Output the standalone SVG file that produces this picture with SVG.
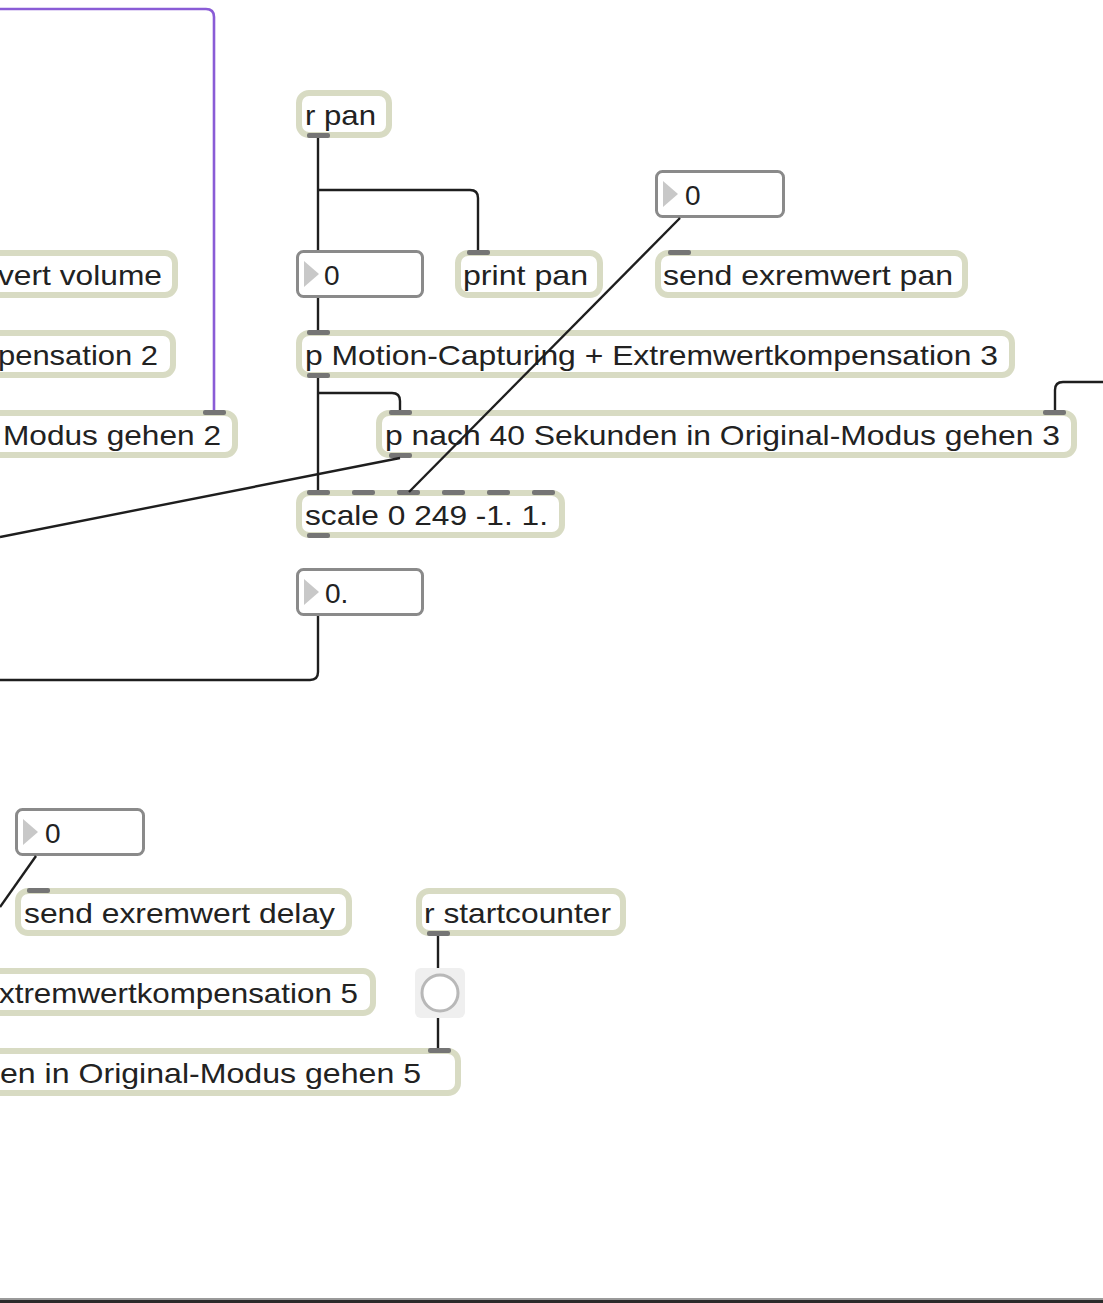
<svg xmlns="http://www.w3.org/2000/svg" width="1103" height="1303" viewBox="0 0 1103 1303">
  <style>
    .obj { fill: #ffffff; stroke: #d8dbc3; stroke-width: 6; }
    .num { fill: #ffffff; stroke: #8a8a8a; stroke-width: 3; }
    .tri { fill: #c8c8c8; }
    .port { fill: #757575; }
    .lbl { font-family: "Liberation Sans", Arial, sans-serif; font-size: 28px; fill: #222222; }
    .cord { fill: none; stroke: #1e1e1e; stroke-width: 2.4; }
    .cord-sig { fill: none; stroke: #8a5cd6; stroke-width: 2.6; }
  </style>

  <rect x="0" y="0" width="1103" height="1303" fill="#ffffff"/>

  <g id="r-pan">
    <rect class="obj" x="299" y="93" width="90" height="42" rx="10"/>
    <rect class="port" x="307" y="133" width="23" height="5" rx="2"/>
    <text class="lbl" x="305" y="125" textLength="71" lengthAdjust="spacingAndGlyphs">r pan</text>
  </g>

  <g id="num-top">
    <rect class="num" x="656.5" y="171.5" width="127" height="45" rx="6"/>
    <path class="tri" d="M663,181 L678,194 L663,207 Z"/>
    <text class="lbl" x="685" y="205">0</text>
  </g>

  <g id="num-pan">
    <rect class="num" x="297.5" y="251.5" width="125" height="45" rx="6"/>
    <path class="tri" d="M304,261 L319,274 L304,287 Z"/>
    <text class="lbl" x="324" y="285">0</text>
  </g>

  <g id="print-pan">
    <rect class="obj" x="458" y="253" width="142" height="42" rx="10"/>
    <rect class="port" x="467" y="250" width="23" height="5" rx="2"/>
    <text class="lbl" x="463" y="285" textLength="125" lengthAdjust="spacingAndGlyphs">print pan</text>
  </g>

  <g id="send-pan">
    <rect class="obj" x="658" y="253" width="307" height="42" rx="10"/>
    <rect class="port" x="668" y="250" width="23" height="5" rx="2"/>
    <text class="lbl" x="663" y="285" textLength="290" lengthAdjust="spacingAndGlyphs">send exremwert pan</text>
  </g>

  <g id="send-volume">
    <rect class="obj" x="-20" y="253" width="195" height="42" rx="10"/>
    <text class="lbl" x="-2" y="285" textLength="164" lengthAdjust="spacingAndGlyphs">vert volume</text>
  </g>

  <g id="comp-2">
    <rect class="obj" x="-20" y="333" width="193" height="42" rx="10"/>
    <text class="lbl" x="-2" y="365" textLength="160" lengthAdjust="spacingAndGlyphs">pensation 2</text>
  </g>

  <g id="modus-2">
    <rect class="obj" x="-20" y="413" width="255" height="42" rx="10"/>
    <rect class="port" x="203" y="410" width="23" height="5" rx="2"/>
    <text class="lbl" x="3" y="445" textLength="218" lengthAdjust="spacingAndGlyphs">Modus gehen 2</text>
  </g>

  <g id="motion-3">
    <rect class="obj" x="299" y="333" width="713" height="42" rx="10"/>
    <rect class="port" x="307" y="330" width="23" height="5" rx="2"/>
    <rect class="port" x="307" y="373" width="23" height="5" rx="2"/>
    <text class="lbl" x="305" y="365" textLength="693" lengthAdjust="spacingAndGlyphs">p Motion-Capturing + Extremwertkompensation 3</text>
  </g>

  <g id="modus-3">
    <rect class="obj" x="379" y="413" width="695" height="42" rx="10"/>
    <rect class="port" x="389" y="410" width="23" height="5" rx="2"/>
    <rect class="port" x="1043" y="410" width="23" height="5" rx="2"/>
    <rect class="port" x="389" y="453" width="23" height="5" rx="2"/>
    <text class="lbl" x="385" y="445" textLength="675" lengthAdjust="spacingAndGlyphs">p nach 40 Sekunden in Original-Modus gehen 3</text>
  </g>

  <g id="scale">
    <rect class="obj" x="299" y="493" width="263" height="42" rx="10"/>
    <rect class="port" x="307" y="490" width="23" height="5" rx="2"/>
    <rect class="port" x="352" y="490" width="23" height="5" rx="2"/>
    <rect class="port" x="397" y="490" width="23" height="5" rx="2"/>
    <rect class="port" x="442" y="490" width="23" height="5" rx="2"/>
    <rect class="port" x="487" y="490" width="23" height="5" rx="2"/>
    <rect class="port" x="532" y="490" width="23" height="5" rx="2"/>
    <rect class="port" x="307" y="533" width="23" height="5" rx="2"/>
    <text class="lbl" x="305" y="525" textLength="243" lengthAdjust="spacingAndGlyphs">scale 0 249 -1. 1.</text>
  </g>

  <g id="num-scaled">
    <rect class="num" x="297.5" y="569.5" width="125" height="45" rx="6"/>
    <path class="tri" d="M304,579 L319,592 L304,605 Z"/>
    <text class="lbl" x="325" y="603">0.</text>
  </g>

  <g id="num-delay">
    <rect class="num" x="16.5" y="809.5" width="127" height="45" rx="6"/>
    <path class="tri" d="M23,819 L38,832 L23,845 Z"/>
    <text class="lbl" x="45" y="843">0</text>
  </g>

  <g id="send-delay">
    <rect class="obj" x="18" y="891" width="331" height="42" rx="10"/>
    <rect class="port" x="27" y="888" width="23" height="5" rx="2"/>
    <text class="lbl" x="24" y="923" textLength="311" lengthAdjust="spacingAndGlyphs">send exremwert delay</text>
  </g>

  <g id="r-startcounter">
    <rect class="obj" x="419" y="891" width="204" height="42" rx="10"/>
    <rect class="port" x="427" y="931" width="23" height="5" rx="2"/>
    <text class="lbl" x="424" y="923" textLength="187" lengthAdjust="spacingAndGlyphs">r startcounter</text>
  </g>

  <g id="comp-5">
    <rect class="obj" x="-20" y="971" width="393" height="42" rx="10"/>
    <text class="lbl" x="-1" y="1003" textLength="359" lengthAdjust="spacingAndGlyphs">xtremwertkompensation 5</text>
  </g>

  <g id="bang">
    <rect x="415" y="968" width="50" height="50" rx="6" fill="#efefef"/>
    <circle cx="440" cy="993" r="18" fill="#ffffff" stroke="#b8b8b8" stroke-width="3"/>
  </g>

  <g id="modus-5">
    <rect class="obj" x="-20" y="1051" width="478" height="42" rx="10"/>
    <rect class="port" x="428" y="1048" width="23" height="5" rx="2"/>
    <text class="lbl" x="0" y="1083" textLength="421" lengthAdjust="spacingAndGlyphs">en in Original-Modus gehen 5</text>
  </g>

  <!-- patch cords, drawn above the boxes -->
  <g id="connections">
    <path class="cord-sig" d="M214,410 V17 Q214,9 206,9 H0"/>
    <path class="cord" d="M318,138 V250"/>
    <path class="cord" d="M318,190 H470 Q478,190 478,198 V250"/>
    <path class="cord" d="M318,298 V330"/>
    <path class="cord" d="M318,378 V490"/>
    <path class="cord" d="M318,393 H392 Q400,393 400,401 V410"/>
    <path class="cord" d="M680,218 L409,492"/>
    <path class="cord" d="M400,458 L0,537"/>
    <path class="cord" d="M318,616 V672 Q318,680 310,680 H0"/>
    <path class="cord" d="M1055,410 V390 Q1055,382 1063,382 H1103"/>
    <path class="cord" d="M36,856 L0,907"/>
    <path class="cord" d="M438,936 V968"/>
    <path class="cord" d="M438,1018 V1048"/>
  </g>

  <!-- window edge -->
  <rect x="0" y="1298" width="1103" height="2" fill="#9a9a9a"/>
  <rect x="0" y="1300" width="1103" height="3" fill="#2a2a2a"/>
</svg>
